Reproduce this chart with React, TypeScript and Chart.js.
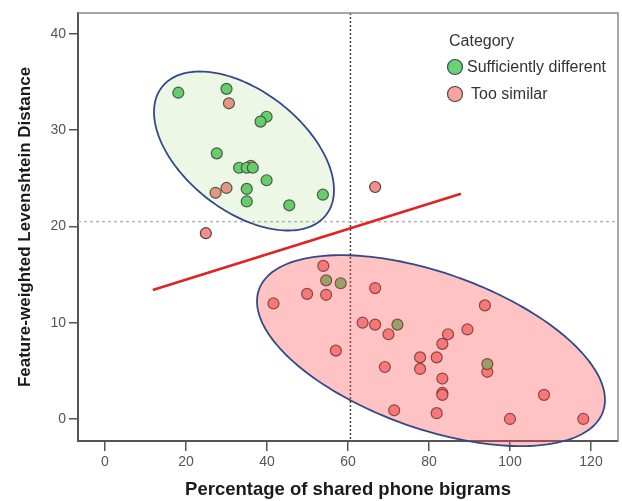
import React, { useEffect, useRef } from 'react';
import { Chart, registerables } from 'chart.js';

Chart.register(...registerables);

// ---- data ----
const xTicks = [0, 20, 40, 60, 80, 100, 120];
const yTicks = [0, 10, 20, 30, 40];
const seriesNames = ['Sufficiently different', 'Too similar'];
const legendTitle = 'Category';
const xTitle = 'Percentage of shared phone bigrams';
const yTitle = 'Feature-weighted Levenshtein Distance';

const diffX = [18.1, 30.0, 39.9, 38.4, 27.6, 33.1, 35.0, 36.5, 39.9, 35.0, 35.0, 45.5, 53.8, 54.6, 58.2, 72.2, 94.4];
const diffY = [33.9, 34.3, 31.4, 30.9, 27.6, 26.1, 26.1, 26.1, 24.8, 23.9, 22.6, 22.2, 23.3, 14.4, 14.1, 9.8, 5.7];

const similarX = [30.6, 27.3, 30.0, 24.9, 66.7, 36.0, 53.9, 49.9, 54.6, 41.6, 66.7, 63.6, 66.7, 70.0, 57.0, 69.1, 77.8, 77.8, 71.4, 93.8, 89.5, 84.7, 83.3, 81.9, 83.3, 94.4, 83.3, 83.3, 108.4, 81.9, 100.0, 118.1];
const similarY = [32.8, 23.5, 24.0, 19.3, 24.1, 26.3, 15.9, 13.0, 12.9, 12.0, 13.6, 10.0, 9.8, 8.8, 7.1, 5.4, 6.4, 5.2, 0.9, 11.8, 9.3, 8.8, 7.8, 6.4, 4.2, 4.9, 2.7, 2.5, 2.5, 0.6, 0.0, 0.0];

const fitX = [11.8, 87.9];
const fitY = [13.4, 23.4];

const refX = 60.6;
const refY = 20.5;

// ellipses in data units: centre and two conjugate semi-diameters
const diffEllipse = { cx: 34.32, cy: 27.84, ax: 22.22, ay: -4.05, bx: 0, by: 7.2 };
const similarEllipse = { cx: 80.49, cy: 7.1, ax: 42.96, ay: -5.12, bx: 0, by: 8.5 };

// ---- styles ----
const FONT = "'Liberation Sans', Arial, sans-serif";
const greenMarker = 'rgb(98, 206, 112)';
const pinkMarker = 'rgb(246, 140, 140)';
const greenSwatch = 'rgb(104, 210, 118)';
const pinkSwatch = 'rgb(248, 162, 162)';
const markerEdge = 'rgba(45, 45, 45, 0.85)';
const axisColor = '#555555';

const toPts = (xs: number[], ys: number[]) => xs.map((v, i) => ({ x: v, y: ys[i] }));

function traceEllipse(ctx: CanvasRenderingContext2D, chart: any, e: any) {
  const { x, y } = chart.scales;
  ctx.beginPath();
  const n = 180;
  for (let i = 0; i <= n; i++) {
    const t = (i / n) * Math.PI * 2;
    const dx = e.cx + e.ax * Math.cos(t) + e.bx * Math.sin(t);
    const dy = e.cy + e.ay * Math.cos(t) + e.by * Math.sin(t);
    const px = x.getPixelForValue(dx);
    const py = y.getPixelForValue(dy);
    if (i === 0) ctx.moveTo(px, py);
    else ctx.lineTo(px, py);
  }
  ctx.closePath();
}

const overlay = {
  id: 'overlay',
  beforeDatasetsDraw(chart: any) {
    const { ctx, chartArea: ca, scales } = chart;
    ctx.save();
    ctx.lineWidth = 1.5;
    ctx.setLineDash([2, 2]);
    ctx.strokeStyle = '#444';
    const px = scales.x.getPixelForValue(refX);
    ctx.beginPath();
    ctx.moveTo(px, ca.top);
    ctx.lineTo(px, ca.bottom);
    ctx.stroke();
    ctx.setLineDash([3, 3]);
    ctx.strokeStyle = '#b5b5b5';
    const py = scales.y.getPixelForValue(refY);
    ctx.beginPath();
    ctx.moveTo(ca.left, py);
    ctx.lineTo(ca.right, py);
    ctx.stroke();
    ctx.restore();
  },
  afterDatasetsDraw(chart: any) {
    const { ctx, chartArea: ca } = chart;
    ctx.save();
    // ellipses (translucent fills over the markers, as in SPSS)
    traceEllipse(ctx, chart, diffEllipse);
    ctx.fillStyle = 'rgba(130, 200, 90, 0.15)';
    ctx.fill();
    ctx.lineWidth = 1.8;
    ctx.strokeStyle = '#34498a';
    ctx.stroke();
    traceEllipse(ctx, chart, similarEllipse);
    ctx.fillStyle = 'rgba(255, 80, 80, 0.34)';
    ctx.fill();
    ctx.stroke();

    // top & right frame
    ctx.strokeStyle = '#8a8a8a';
    ctx.lineWidth = 1.5;
    ctx.beginPath();
    ctx.moveTo(ca.left, ca.top);
    ctx.lineTo(ca.right, ca.top);
    ctx.lineTo(ca.right, ca.bottom);
    ctx.stroke();

    // legend
    const lx = ca.right - 169;
    ctx.font = `16px ${FONT}`;
    ctx.fillStyle = '#333';
    ctx.textBaseline = 'middle';
    ctx.textAlign = 'left';
    ctx.fillText(legendTitle, lx, ca.top + 29);
    const colors = [greenSwatch, pinkSwatch];
    seriesNames.forEach((name, i) => {
      const cy = ca.top + 54 + i * 27;
      ctx.beginPath();
      ctx.arc(lx + 6, cy, 7.5, 0, Math.PI * 2);
      ctx.fillStyle = colors[i];
      ctx.fill();
      ctx.lineWidth = 1.2;
      ctx.strokeStyle = markerEdge;
      ctx.stroke();
      ctx.fillStyle = '#333';
      ctx.fillText(name, lx + 18 + i * 4, cy + 1);
    });
    ctx.restore();
  },
};

export default function App() {
  const ref = useRef<HTMLCanvasElement>(null);

  useEffect(() => {
    if (!ref.current) return;
    Chart.defaults.font.family = FONT;
    const chart = new Chart(ref.current, {
      type: 'scatter',
      data: {
        datasets: [
          {
            label: seriesNames[0],
            data: toPts(diffX, diffY),
            backgroundColor: greenMarker,
            borderColor: markerEdge,
            borderWidth: 1.2,
            pointRadius: 5.5,
          },
          {
            label: seriesNames[1],
            data: toPts(similarX, similarY),
            backgroundColor: pinkMarker,
            borderColor: markerEdge,
            borderWidth: 1.2,
            pointRadius: 5.5,
          },
          {
            type: 'line',
            label: 'fit',
            data: toPts(fitX, fitY),
            borderColor: '#e02222',
            borderWidth: 2.5,
            pointRadius: 0,
            fill: false,
          } as any,
        ],
      },
      options: {
        responsive: false,
        animation: false,
        layout: { autoPadding: false, padding: { top: 13, right: 4, left: 0, bottom: 0 } },
        plugins: { legend: { display: false }, tooltip: { enabled: false } },
        scales: {
          x: {
            type: 'linear',
            min: -6.67,
            max: 126.67,
            afterBuildTicks: (s: any) => {
              s.ticks = xTicks.map((v) => ({ value: v }));
            },
            afterFit: (s: any) => {
              s.height = 60;
              s.paddingLeft = 0;
              s.paddingRight = 0;
            },
            ticks: { color: '#555', font: { size: 14 }, padding: 3 },
            grid: { drawOnChartArea: false, tickLength: 10, color: axisColor, lineWidth: 1.5 },
            border: { color: axisColor, width: 2 },
            title: {
              display: true,
              text: xTitle,
              color: '#1a1a1a',
              font: { size: 18.5, weight: 'bold' },
              padding: { top: 0, bottom: 0 },
            },
          },
          y: {
            type: 'linear',
            min: -2.29,
            max: 42.18,
            afterBuildTicks: (s: any) => {
              s.ticks = yTicks.map((v) => ({ value: v }));
            },
            afterFit: (s: any) => {
              s.width = 78;
              s.paddingTop = 0;
              s.paddingBottom = 0;
            },
            ticks: { color: '#555', font: { size: 14 }, padding: 3 },
            grid: { drawOnChartArea: false, tickLength: 9, color: axisColor, lineWidth: 1.5 },
            border: { color: axisColor, width: 2 },
            title: {
              display: true,
              text: yTitle,
              color: '#1a1a1a',
              font: { size: 17, weight: 'bold' },
              padding: { top: 15, bottom: 0 },
            },
          },
        },
      },
      plugins: [overlay],
    });
    return () => chart.destroy();
  }, []);

  return (
    <div style={{ position: 'absolute', left: 0, top: 0, width: 622, height: 501, background: '#fff' }}>
      <canvas ref={ref} width={622} height={501} style={{ display: 'block' }} />
    </div>
  );
}
